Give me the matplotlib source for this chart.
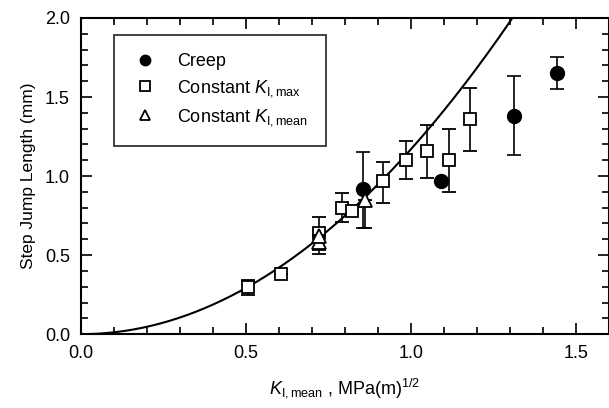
import numpy as np
import matplotlib.pyplot as plt
from matplotlib.ticker import MultipleLocator

plt.rcParams['font.family'] = ['Liberation Sans', 'DejaVu Sans']
plt.rcParams['mathtext.fontset'] = 'custom'
plt.rcParams['mathtext.it'] = 'Liberation Sans:italic'
plt.rcParams['mathtext.rm'] = 'Liberation Sans'

# Creep
creep_x = [0.855, 1.09, 1.313, 1.443]
creep_y = [0.92, 0.97, 1.38, 1.65]
creep_lo = [0.25, 0.0, 0.25, 0.10]
creep_hi = [0.23, 0.0, 0.25, 0.10]

# Constant K_I,max
kmax_x = [0.506, 0.605, 0.72, 0.79, 0.82, 0.915, 0.985, 1.05, 1.114, 1.18]
kmax_y = [0.30, 0.38, 0.64, 0.80, 0.78, 0.97, 1.10, 1.16, 1.10, 1.36]
kmax_lo = [0.05, 0.0, 0.13, 0.09, 0.0, 0.14, 0.12, 0.17, 0.20, 0.20]
kmax_hi = [0.04, 0.0, 0.10, 0.09, 0.0, 0.12, 0.12, 0.16, 0.20, 0.20]

# Constant K_I,mean
kmean_x = [0.72, 0.72, 0.86]
kmean_y = [0.58, 0.62, 0.85]
kmean_lo = [0.05, 0.0, 0.18]
kmean_hi = [0.05, 0.0, 0.0]

# fitted curve y = a * x^n
fit_a = 1.17
fit_n = 2.0

fig = plt.figure(figsize=(6.09, 4.08), dpi=100)
ax = fig.add_axes([0.133, 0.181, 0.867, 0.775])

xs = np.linspace(0, 1.6, 300)
ax.plot(xs, fit_a * xs ** fit_n, color='black', lw=1.5, zorder=2)

ax.errorbar(kmax_x, kmax_y, yerr=[kmax_lo, kmax_hi], fmt='s', ms=9,
            mfc='white', mec='black', mew=1.3, ecolor='black', elinewidth=1.2,
            capsize=5, capthick=1.2, label=r'Constant $K_{\mathrm{I,max}}$', zorder=3)
ax.errorbar(creep_x, creep_y, yerr=[creep_lo, creep_hi], fmt='o', ms=10,
            mfc='black', mec='black', ecolor='black', elinewidth=1.2,
            capsize=5, capthick=1.2, label='Creep', zorder=4)
ax.errorbar(kmean_x, kmean_y, yerr=[kmean_lo, kmean_hi], fmt='^', ms=10,
            mfc='white', mec='black', mew=1.3, ecolor='black', elinewidth=1.2,
            capsize=5, capthick=1.2, label=r'Constant $K_{\mathrm{I,mean}}$', zorder=5)

ax.set_xlim(0, 1.6)
ax.set_ylim(0, 2.0)
ax.xaxis.set_major_locator(MultipleLocator(0.5))
ax.xaxis.set_minor_locator(MultipleLocator(0.1))
ax.yaxis.set_major_locator(MultipleLocator(0.5))
ax.yaxis.set_minor_locator(MultipleLocator(0.1))
ax.tick_params(which='both', direction='in', top=True, right=True, labelsize=13, width=1.2)
ax.tick_params(which='major', length=8, pad=8)
ax.tick_params(which='minor', length=5)
ax.xaxis.set_major_formatter(plt.FormatStrFormatter('%.1f'))
ax.yaxis.set_major_formatter(plt.FormatStrFormatter('%.1f'))
for s in ax.spines.values():
    s.set_linewidth(1.5)

ax.set_ylabel('Step Jump Length (mm)', fontsize=12.5, labelpad=6)
ax.set_xlabel(r'$K_{\mathrm{I,mean}}$ , MPa(m)$^{1/2}$', fontsize=13, labelpad=10)

h, l = ax.get_legend_handles_labels()
order = [1, 0, 2]
leg = ax.legend([h[i][0] for i in order], [l[i] for i in order], loc='upper left',
                bbox_to_anchor=(0.045, 0.975), fontsize=13, frameon=True, fancybox=False,
                edgecolor='black', handletextpad=1.0, borderpad=1.0, labelspacing=0.45,
                handlelength=1.5, markerscale=0.75)
leg.get_frame().set_linewidth(1.3)

fig.savefig('out.png', dpi=100)
